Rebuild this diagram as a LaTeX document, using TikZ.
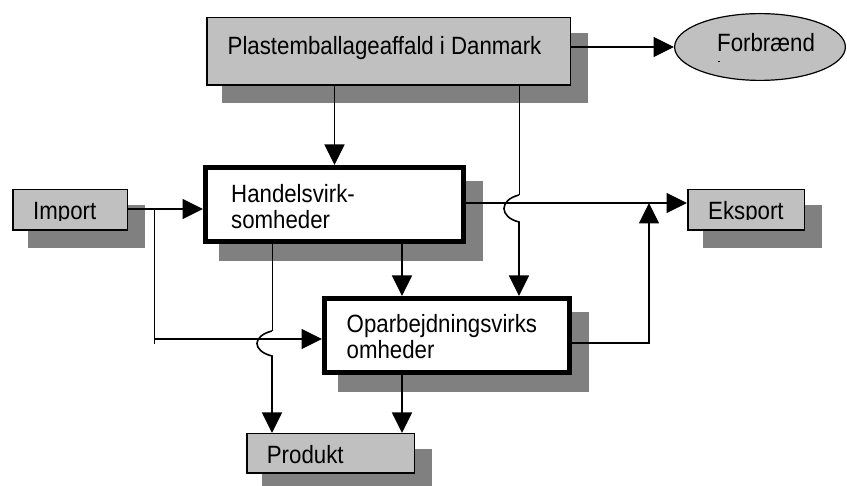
\documentclass[tikz,border=0pt]{standalone}
\usepackage{fontspec}
\setmainfont{Liberation Sans}[FakeStretch=0.89]
\usetikzlibrary{arrows.meta,calc,backgrounds,shapes.geometric}
\definecolor{boxgray}{HTML}{C0C0C0}
\definecolor{shadegray}{HTML}{808080}
\begin{document}
\begin{tikzpicture}[x=1pt,y=-1pt,
  lbl/.style={font=\fontsize{25}{26}\selectfont, anchor=base west, inner sep=0pt},
  graybox/.style={draw, line width=1.5pt, fill=boxgray, rectangle, inner sep=0pt},
  thickbox/.style={draw, line width=5pt, fill=white, rectangle, inner sep=0pt},
  conn/.style={line width=1.6pt},
  connmid/.style={line width=1.2pt},
  thinline/.style={line width=0.9pt},
  tip/.style={-{Triangle[length=20.5pt,width=20pt]}},
]
\useasboundingbox (0,0) rectangle (847,486);

% boxes
\node[graybox, minimum width=363.5pt, minimum height=67.5pt] (plast) at (388.5,51.5) {};
\node[ellipse, draw, fill=boxgray, line width=1.2pt, inner sep=0pt,
      minimum width=170.8pt, minimum height=66.8pt] (forb) at (760,47) {};
\node[graybox, minimum width=114.5pt, minimum height=40.5pt] (imp) at (70,210) {};
\node[graybox, minimum width=116.5pt, minimum height=40.5pt] (eks) at (746,210) {};
\node[graybox, minimum width=167.5pt, minimum height=39.5pt] (prod) at (330.5,453.5) {};
\node[thickbox, minimum width=258pt, minimum height=74pt] (hand) at (334.5,204.5) {};
\node[thickbox, minimum width=245pt, minimum height=74pt] (oparb) at (447,335.5) {};

% shadows and page background
\begin{pgfonlayer}{background}
  \fill[white] (0,0) rectangle (847,486);
  \foreach \n in {plast,imp,eks,prod,hand,oparb}
    \fill[shadegray] ($(\n.north west)+(16,16)$) rectangle ($(\n.south east)+(17,17)$);
\end{pgfonlayer}

% texts
\node[lbl] (plast-t) at (227.5,55) {Plastemballageaffald i Danmark};
\node[lbl] (forb-t) at (717,52) {Forbrænd};
\begin{scope}
  \clip (716,61.2) rectangle (721,63.6);
  \node[lbl] (forb-t2) at (716.5,78.5) {ing};
\end{scope}
\begin{scope}
  \clip (imp.north west) rectangle (130,220.5);
  \node[lbl] (imp-t) at (33,220) {Import};
\end{scope}
\begin{scope}
  \clip (eks.north west) rectangle (806,219.5);
  \node[lbl] (eks-t) at (708,219.3) {Eksport};
\end{scope}
\begin{scope}
  \clip (prod.north west) rectangle (416,464.2);
  \node[lbl] (prod-t) at (266.7,464) {Produkt};
\end{scope}
\node[lbl] (hand-t1) at (231,203) {Handelsvirk-};
\node[lbl] (hand-t2) at (231,229) {somheder};
\node[lbl] (oparb-t1) at (346.5,333) {Oparbejdningsvirks};
\node[lbl] (oparb-t2) at (346.5,359) {omheder};

% helper coordinates
\coordinate (x272) at (272,0);
\coordinate (x402) at (402,0);
\coordinate (x519) at (519,0);
\coordinate (x649) at (649,0);
\coordinate (iy) at (0,209);
\coordinate (ey) at (0,203);
\coordinate (jn) at (154,209);
\coordinate (jd) at (154,344);
\coordinate (jh) at (154,339);
\coordinate (oy) at (0,343);
\coordinate (bA) at (519,195);
\coordinate (bAe) at (519,222);
\coordinate (bB) at (272,331);
\coordinate (bBe) at (272,356);

% connectors
\draw[conn, tip] (plast.south -| hand.north) -- (hand.north);
\draw[connmid, tip] (forb.west -| plast.east) -- (forb.west);
\draw[conn, tip] (imp.east |- iy) -- (hand.west |- iy);
\draw[thinline] (jn) -- (jd);
\draw[conn, tip] (jh) -- (jh -| oparb.west);
\draw[connmid, tip] (hand.east |- ey) -- (eks.west |- ey);
\draw[thinline] (plast.south -| x519) -- (bA);
\draw[conn, tip] (bA) .. controls (499,200) and (499,217) .. (bAe) -- (oparb.north -| x519);
\draw[conn, tip] (hand.south -| x402) -- (oparb.north -| x402);
\draw[thinline] (hand.south -| x272) -- (bB);
\draw[conn, tip] (bB) .. controls (252,336) and (252,351) .. (bBe) -- (prod.north -| x272);
\draw[conn, tip] (oparb.south -| x402) -- (prod.north -| x402);
\draw[connmid, tip] (oparb.east |- oy) -| (x649 |- ey);
\end{tikzpicture}
\end{document}
